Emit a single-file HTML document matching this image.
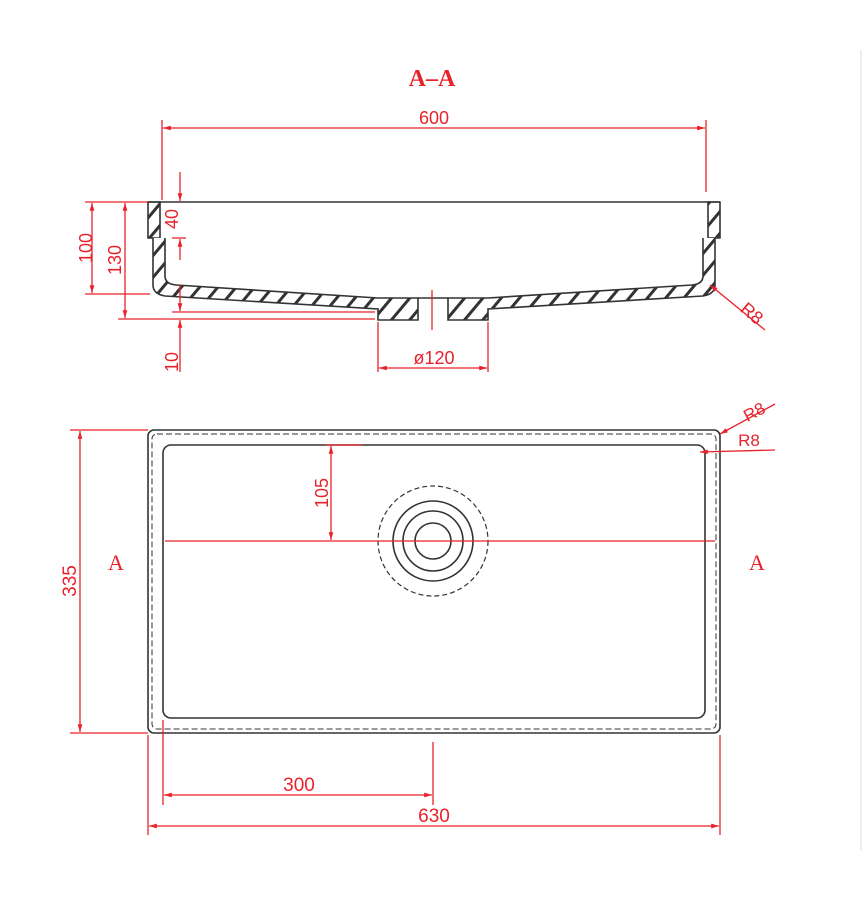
<!DOCTYPE html>
<html><head><style>
html,body{margin:0;padding:0;background:#fff;width:863px;height:909px;overflow:hidden}
svg{display:block}
text{font-family:"Liberation Sans",sans-serif;fill:#e8222a}
</style></head><body>
<svg width="863" height="909" viewBox="0 0 863 909" xmlns="http://www.w3.org/2000/svg">
<defs>
<pattern id="h" width="14" height="14" patternUnits="userSpaceOnUse" patternTransform="rotate(40)">
<rect width="14" height="14" fill="#fff"/><rect x="0" y="0" width="3" height="14" fill="#333"/>
</pattern>
<marker id="a" viewBox="0 0 10 10" refX="10" refY="5" markerWidth="8" markerHeight="6" orient="auto-start-reverse"><path d="M0,2 L10,5 L0,8z" fill="#e8222a"/></marker>
</defs>
<line x1="861" y1="50" x2="861" y2="850" stroke="#ddd" stroke-width="1"/>
<text x="432" y="86" font-size="24" font-weight="bold" text-anchor="middle" style="font-family:'Liberation Serif',serif">A–A</text>
<g stroke="#e8222a" stroke-width="1.3" fill="none">
<line x1="162" y1="120" x2="162" y2="200"/><line x1="706" y1="120" x2="706" y2="192"/>
<line x1="163" y1="128" x2="705" y2="128" marker-start="url(#a)" marker-end="url(#a)"/>
</g>
<text x="434" y="124" font-size="18" text-anchor="middle">600</text>
<g stroke="#333" stroke-width="1.6" fill="url(#h)">
<path d="M148,202 L160,202 L160,238 L148,238Z"/>
<path d="M708,202 L720,202 L720,238 L708,238Z"/>
<path d="M153,238 L153,285 Q153,294 165,296 L378,309 L378,320 L418,320 L418,298 L378,298 L176,285 Q165,284 165,276 L165,238"/>
<path d="M715,238 L715,285 Q715,294 703,296 L488,309 L488,320 L448,320 L448,298 L488,298 L692,285 Q703,284 703,276 L703,238"/>
<line x1="148" y1="202" x2="720" y2="202"/>
<line x1="418" y1="298" x2="448" y2="298" fill="none"/>
</g>
<g stroke="#e8222a" stroke-width="1.3" fill="none">
<line x1="85" y1="202" x2="148" y2="202"/><line x1="85" y1="294" x2="150" y2="294"/>
<line x1="92" y1="203" x2="92" y2="293" marker-start="url(#a)" marker-end="url(#a)"/>
<line x1="118" y1="319" x2="375" y2="319"/><line x1="172" y1="312" x2="375" y2="312"/>
<line x1="125" y1="203" x2="125" y2="318" marker-start="url(#a)" marker-end="url(#a)"/>
<line x1="180" y1="172" x2="180" y2="201" marker-end="url(#a)"/>
<line x1="180" y1="239" x2="180" y2="260" marker-start="url(#a)"/>
<line x1="172" y1="238" x2="186" y2="238"/>
<line x1="180" y1="285" x2="180" y2="311" marker-end="url(#a)"/>
<line x1="180" y1="320" x2="180" y2="372" marker-start="url(#a)"/>
<line x1="378" y1="322" x2="378" y2="372"/><line x1="488" y1="322" x2="488" y2="372"/>
<line x1="379" y1="368" x2="487" y2="368" marker-start="url(#a)" marker-end="url(#a)"/>
<line x1="432" y1="290" x2="432" y2="330"/>
<line x1="765" y1="330" x2="710" y2="285" marker-end="url(#a)"/>
</g>
<text transform="translate(92,248) rotate(-90)" font-size="18" text-anchor="middle">100</text>
<text transform="translate(121,260) rotate(-90)" font-size="18" text-anchor="middle">130</text>
<text transform="translate(178,219) rotate(-90)" font-size="18" text-anchor="middle">40</text>
<text transform="translate(178,362) rotate(-90)" font-size="18" text-anchor="middle">10</text>
<text x="434" y="364" font-size="18" text-anchor="middle">ø120</text>
<text transform="translate(748,318) rotate(40)" font-size="18" text-anchor="middle">R8</text>
<g fill="none" stroke="#333" stroke-width="1.6">
<rect x="148" y="430" width="572" height="303" rx="6"/>
<rect x="152" y="434" width="564" height="295" rx="5" stroke-dasharray="6,3" stroke-width="1"/>
<rect x="163" y="445" width="542" height="273" rx="8"/>
<circle cx="433" cy="541" r="55" stroke-dasharray="5,3" stroke-width="1.2"/>
<circle cx="433" cy="541" r="40"/>
<circle cx="433" cy="541" r="30"/>
<circle cx="433" cy="541" r="18"/>
</g>
<g stroke="#e8222a" stroke-width="1.3" fill="none">
<line x1="165" y1="541" x2="715" y2="541"/>
<line x1="70" y1="430" x2="148" y2="430"/><line x1="70" y1="733" x2="148" y2="733"/>
<line x1="80" y1="431" x2="80" y2="732" marker-start="url(#a)" marker-end="url(#a)"/>
<line x1="325" y1="445" x2="362" y2="445"/>
<line x1="331" y1="446" x2="331" y2="540" marker-start="url(#a)" marker-end="url(#a)"/>
<line x1="163" y1="720" x2="163" y2="805"/><line x1="433" y1="742" x2="433" y2="805"/>
<line x1="164" y1="795" x2="432" y2="795" marker-start="url(#a)" marker-end="url(#a)"/>
<line x1="148" y1="735" x2="148" y2="835"/><line x1="720" y1="735" x2="720" y2="835"/>
<line x1="149" y1="826" x2="719" y2="826" marker-start="url(#a)" marker-end="url(#a)"/>
<line x1="775" y1="404" x2="720" y2="434" marker-end="url(#a)"/>
<line x1="775" y1="450" x2="700" y2="452" marker-end="url(#a)"/>
</g>
<text transform="translate(76,581) rotate(-90)" font-size="19" text-anchor="middle">335</text>
<text transform="translate(328,493) rotate(-90)" font-size="18" text-anchor="middle">105</text>
<text x="299" y="791" font-size="19" text-anchor="middle">300</text>
<text x="434" y="822" font-size="19" text-anchor="middle">630</text>
<text transform="translate(757,417) rotate(-28)" font-size="17" text-anchor="middle">R8</text>
<text x="749" y="446" font-size="17" text-anchor="middle">R8</text>
<text x="116" y="570" font-size="22" text-anchor="middle" style="font-family:'Liberation Serif',serif">A</text>
<text x="757" y="570" font-size="22" text-anchor="middle" style="font-family:'Liberation Serif',serif">A</text>
</svg>
</body></html>
